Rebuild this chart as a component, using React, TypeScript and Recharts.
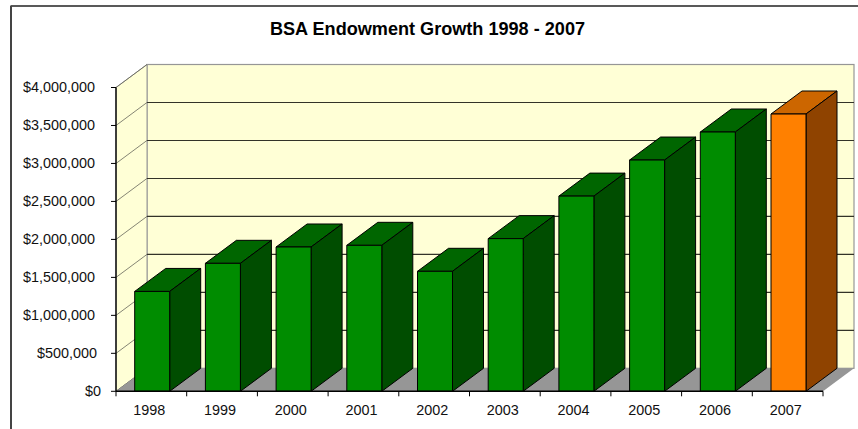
import React from "react";
import { BarChart, Bar, XAxis, YAxis, usePlotArea } from "recharts";

const years = ["1998", "1999", "2000", "2001", "2002", "2003", "2004", "2005", "2006", "2007"];
const endowment = [1315000, 1685000, 1900000, 1922000, 1580000, 2010000, 2570000, 3045000, 3414000, 3651000];
const yTicks = [0, 500000, 1000000, 1500000, 2000000, 2500000, 3000000, 3500000, 4000000];
const highlightYear = "2007";

const chartData = years.map((year, i) => ({ year, value: endowment[i] }));

const FONT = "'Liberation Sans', Arial, sans-serif";
const DEPTH_X = 31;
const DEPTH_Y = 23;
const GREEN = { front: "#008C00", top: "#006600", side: "#004D00" };
const ORANGE = { front: "#FF8000", top: "#CC6600", side: "#8F4300" };

const pts = (...p: number[][]) => p.map((c) => c.join(",")).join(" ");

// back wall, side wall, floor and the gridlines, drawn behind the bars
function Scene() {
  const plot = usePlotArea();
  if (!plot) return null;
  const { x, y, width, height } = plot;
  const bottom = y + height;
  const right = x + width;
  const yOf = (v: number) => bottom - (v / yTicks[yTicks.length - 1]) * height;
  const band = width / years.length;

  return (
    <g>
      <rect x={x + DEPTH_X} y={y - DEPTH_Y} width={width} height={height} fill="#FFFFD6" stroke="#969696" strokeWidth={1.2} />
      <polygon
        points={pts([x, bottom], [x, y], [x + DEPTH_X, y - DEPTH_Y], [x + DEPTH_X, bottom - DEPTH_Y])}
        fill="#FFFFD6"
        stroke="#969696"
      />
      {yTicks.map((v) => (
        <g key={v}>
          <line x1={x} y1={yOf(v)} x2={x + DEPTH_X} y2={yOf(v) - DEPTH_Y} stroke="#66665a" strokeWidth={0.8} />
          {v > 0 && v < 4000000 && (
            <line x1={x + DEPTH_X} y1={yOf(v) - DEPTH_Y} x2={right + DEPTH_X} y2={yOf(v) - DEPTH_Y} stroke="#333328" strokeWidth={1.1} />
          )}
        </g>
      ))}
      <polygon
        points={pts([x, bottom], [right, bottom], [right + DEPTH_X, bottom - DEPTH_Y], [x + DEPTH_X, bottom - DEPTH_Y])}
        fill="#969696"
      />
      {[...years, ""].map((_, i) => (
        <line key={i} x1={x + i * band} y1={bottom} x2={x + i * band} y2={bottom + 5} stroke="#000" />
      ))}
    </g>
  );
}

function Box3D(props: any) {
  const { y, width, height, payload } = props;
  const x = props.x + 0.7;
  const c = payload.year === highlightYear ? ORANGE : GREEN;
  const r = x + width;
  const b = y + height;
  const line = { stroke: "#000", strokeWidth: 1, strokeLinejoin: "round" as const };
  return (
    <g>
      <polygon points={pts([x, y], [r, y], [r + DEPTH_X, y - DEPTH_Y], [x + DEPTH_X, y - DEPTH_Y])} fill={c.top} {...line} />
      <polygon points={pts([r, y], [r + DEPTH_X, y - DEPTH_Y], [r + DEPTH_X, b - DEPTH_Y], [r, b])} fill={c.side} {...line} />
      <rect x={x} y={y} width={width} height={height} fill={c.front} {...line} />
    </g>
  );
}

function MoneyTick(props: any) {
  const { y, payload } = props;
  const label = "$" + Number(payload.value).toLocaleString("en-US");
  const end = payload.value === 0 ? 101 : payload.value === 500000 ? 97 : 95;
  return (
    <text x={end} y={y + 4.5} textAnchor="end" fontFamily={FONT} fontSize={14.4} fill="#111">
      {label}
    </text>
  );
}

function YearTick(props: any) {
  const { x, y, payload } = props;
  return (
    <text x={x - 2} y={y + 16} textAnchor="middle" fontFamily={FONT} fontSize={14.4} fill="#111">
      {payload.value}
    </text>
  );
}

export default function App() {
  return (
    <div style={{ position: "absolute", left: 0, top: 0, width: 858, height: 429, background: "#fff", overflow: "hidden" }}>
      <BarChart
        width={858}
        height={429}
        data={chartData}
        margin={{ top: 87.5, right: 35, bottom: 0, left: 0 }}
        barSize={35}
      >
        <Scene />
        <XAxis
          dataKey="year"
          height={37.7}
          tickLine={false}
          axisLine={{ stroke: "#000", strokeWidth: 1.4 }}
          tick={<YearTick />}
          interval={0}
        />
        <YAxis
          width={116}
          domain={[0, 4000000]}
          ticks={yTicks}
          tickSize={5}
          tickLine={{ stroke: "#000" }}
          axisLine={{ stroke: "#000", strokeWidth: 1.4 }}
          tick={<MoneyTick />}
          interval={0}
        />
        <Bar dataKey="value" shape={<Box3D />} isAnimationActive={false} />
      </BarChart>
      <svg width={858} height={429} style={{ position: "absolute", left: 0, top: 0, pointerEvents: "none" }}>
        <text x={427.5} y={35} textAnchor="middle" fontFamily={FONT} fontWeight="bold" fontSize={18.1} fill="#000">
          BSA Endowment Growth 1998 - 2007
        </text>
        <line x1={10.5} y1={6} x2={858} y2={6} stroke="#222" strokeWidth={1.6} />
        <line x1={11} y1={6} x2={11} y2={429} stroke="#444" strokeWidth={2} />
      </svg>
    </div>
  );
}
